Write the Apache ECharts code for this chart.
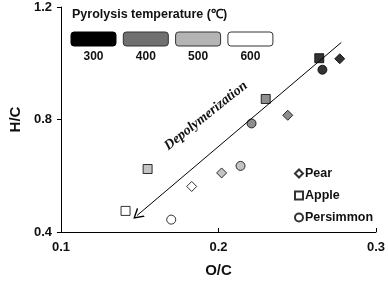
<!DOCTYPE html>
<html><head><meta charset="utf-8">
<script src="https://cdn.jsdelivr.net/npm/echarts@6/dist/echarts.min.js"></script>
<style>html,body{margin:0;padding:0;background:#fff}#c{width:388px;height:283px}</style>
</head><body><div id="c"></div>
<script>
const temps = ['300', '400', '500', '600'];
const tempColors = ['#000000', '#707070', '#b4b4b4', '#ffffff'];
const pearOC = [0.277, 0.244, 0.202, 0.183];
const pearHC = [1.016, 0.815, 0.610, 0.562];
const appleOC = [0.264, 0.230, 0.155, 0.141];
const appleHC = [1.018, 0.873, 0.624, 0.475];
const persOC = [0.266, 0.221, 0.214, 0.170];
const persHC = [0.977, 0.786, 0.635, 0.444];
const arrowStart = [0.278, 1.074];
const arrowEnd = [0.1483, 0.4587];
const arrowLabel = 'Depolymerization';
const arrowLabelPos = [0.192, 0.813];
const xTicks = [0.1, 0.2, 0.3];
const yTicks = [0.4, 0.8, 1.2];

function pts(xs, ys) {
  return xs.map((x, i) => ({ value: [x, ys[i]], itemStyle: { color: tempColors[i] } }));
}
const font = 'Arial, "Liberation Sans", sans-serif';
const chart = echarts.init(document.getElementById('c'));
const common = { type: 'scatter', itemStyle: { color: '#fff', borderColor: '#000', borderWidth: 1 } };
const boxW = 45, boxH = 14, boxX0 = 71, boxGap = 52.3;
const graphics = [{
  type: 'text', left: 72, top: 8,
  style: { text: 'Pyrolysis temperature (℃)', font: 'bold 12.5px ' + font, fill: '#111' }
}];
temps.forEach((t, i) => {
  graphics.push({ type: 'rect', shape: { x: boxX0 + i * boxGap, y: 32, width: boxW, height: boxH, r: 3 },
    style: { fill: tempColors[i], stroke: i === 0 ? '#000' : '#333', lineWidth: 1 } });
  graphics.push({ type: 'text', style: { x: boxX0 + i * boxGap + boxW / 2, y: 57, text: t,
    font: 'bold 12px ' + font, fill: '#111', align: 'center', verticalAlign: 'middle' } });
});
const chevron = 'path://M5,0L10,12L8.6,12L5,3.2L1.4,12L0,12Z';
chart.setOption({
  animation: false,
  grid: { left: 54, right: 10, top: 7, bottom: 50 },
  xAxis: {
    type: 'value', min: 0.1, max: 0.3, interval: 0.1, name: 'O/C', nameLocation: 'middle', nameGap: 31,
    nameTextStyle: { fontFamily: font, fontWeight: 'bold', fontSize: 15, color: '#111' },
    axisLine: { lineStyle: { color: '#000' } }, axisTick: { inside: true, length: 4, lineStyle: { color: '#000' } },
    axisLabel: { fontFamily: font, fontWeight: 'bold', fontSize: 13, color: '#111', margin: 9,
      formatter: v => xTicks.includes(Math.round(v * 10) / 10) ? v.toFixed(1) : '' },
    splitLine: { show: false }
  },
  yAxis: {
    type: 'value', min: 0.4, max: 1.2, interval: 0.4, name: 'H/C', nameLocation: 'middle', nameGap: 34,
    nameTextStyle: { fontFamily: font, fontWeight: 'bold', fontSize: 15, color: '#111' },
    axisLine: { show: true, lineStyle: { color: '#000' } }, axisTick: { show: true, length: 4, lineStyle: { color: '#000' } },
    axisLabel: { fontFamily: font, fontWeight: 'bold', fontSize: 13, color: '#111', margin: 9,
      formatter: v => yTicks.includes(Math.round(v * 10) / 10) ? v.toFixed(1) : '' },
    splitLine: { show: false }
  },
  legend: {
    orient: 'vertical', left: 289, top: 162, itemGap: 9, itemWidth: 8, itemHeight: 8,
    textStyle: { fontFamily: font, fontWeight: 'bold', fontSize: 12.5, color: '#111', padding: [0, 0, 0, -3] },
    data: [
      { name: 'Pear', icon: 'diamond' },
      { name: 'Apple', icon: 'rect' },
      { name: 'Persimmon', icon: 'circle' }
    ]
  },
  graphic: graphics,
  series: [
    Object.assign({}, common, { name: 'Pear', symbol: 'diamond', symbolSize: 10, data: pts(pearOC, pearHC), z: 3 }),
    Object.assign({}, common, { name: 'Apple', symbol: 'rect', symbolSize: 9, data: pts(appleOC, appleHC), z: 3 }),
    Object.assign({}, common, { name: 'Persimmon', symbol: 'circle', symbolSize: 9, data: pts(persOC, persHC), z: 3,
      markLine: {
        silent: true, symbol: ['none', chevron], symbolSize: [12, 10],
        lineStyle: { color: '#000', width: 1, type: 'solid' }, label: { show: false },
        data: [[{ coord: arrowStart, symbol: 'none' }, { coord: arrowEnd, symbol: chevron, symbolSize: [12, 10] }]]
      },
      markPoint: {
        silent: true, symbol: 'circle', symbolSize: 0,
        label: { show: true, formatter: arrowLabel, rotate: 38.5, fontFamily: '"Liberation Serif", "Times New Roman", serif',
          fontWeight: 'bold', fontStyle: 'italic', fontSize: 14, color: '#111', position: 'inside' },
        data: [{ coord: arrowLabelPos }]
      }
    })
  ]
});
</script></body></html>
